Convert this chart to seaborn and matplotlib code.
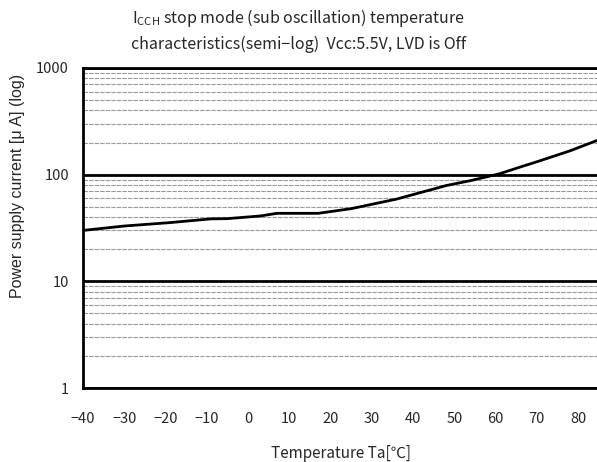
import matplotlib
matplotlib.use("Agg")
import matplotlib.pyplot as plt
import seaborn as sns
import pandas as pd
from matplotlib.ticker import LogLocator, NullFormatter, FixedLocator

# ==============================
# DATOS
# ==============================
temperature = [-40, -30, -19, -9, -5, 3, 7, 17, 25, 36, 48, 54, 61, 66, 70, 78, 85]
current_ua = [30, 33, 35.5, 38.5, 38.7, 41, 43.4, 43.4, 48, 59, 79, 88, 102, 118, 132, 167, 212]
x_ticks = [-40, -30, -20, -10, 0, 10, 20, 30, 40, 50, 60, 70, 80]
y_ticks = [1, 10, 100, 1000]

df = pd.DataFrame({"Ta": temperature, "Icc": current_ua})

# ==============================
# CONFIGURACION VISUAL
# ==============================
sns.set_theme(style="white")
plt.rcParams["font.family"] = ["Noto Sans CJK JP", "DejaVu Sans"]

fig = plt.figure(figsize=(5.97, 4.62), dpi=100)
ax = fig.add_axes([0.139, 0.160, 0.864, 0.693])

sns.lineplot(data=df, x="Ta", y="Icc", color="black", linewidth=2, ax=ax)

ax.set_yscale("log")
ax.set_xlim(-40, 85)
ax.set_ylim(1, 1000)

# grilla: decadas gruesas, menores grises discontinuas
ax.yaxis.set_major_locator(FixedLocator(y_ticks))
ax.yaxis.set_minor_locator(LogLocator(base=10, subs=range(2, 10)))
ax.yaxis.set_minor_formatter(NullFormatter())
ax.set_yticks(y_ticks)
ax.set_yticklabels([str(v) for v in y_ticks])
ax.grid(which="major", axis="y", color="black", linewidth=2)
ax.grid(which="minor", axis="y", color="#9a9a9a", linewidth=0.8, linestyle=(0, (4, 1)))
ax.set_axisbelow(True)

ax.set_xticks(x_ticks)
ax.set_xticklabels([str(v).replace("-", "\u2212") for v in x_ticks])
ax.tick_params(axis="x", which="major", direction="in", length=3, width=1.5,
               color="black", pad=17, labelsize=10.5)
ax.tick_params(axis="y", which="both", length=0, pad=10, labelsize=10.5)

for side in ["left", "bottom", "top"]:
    ax.spines[side].set_color("black")
    ax.spines[side].set_linewidth(2)
ax.spines["right"].set_visible(False)

ax.set_xlabel("Temperature Ta[℃]", fontsize=11, labelpad=14)
ax.set_ylabel("Power supply current [\u03bc A] (log)", fontsize=11.5,
              family=["Liberation Sans", "DejaVu Sans"])
ax.yaxis.set_label_coords(-0.112, 0.63)

fig.text(0.5, 0.962, r"I$_{\mathregular{CCH}}$ stop mode (sub oscillation) temperature",
         ha="center", va="center", fontsize=11.5)
fig.text(0.5, 0.903, "characteristics(semi\u2212log)  Vcc:5.5V, LVD is Off",
         ha="center", va="center", fontsize=11.5)

plt.savefig("out.png", dpi=100)
